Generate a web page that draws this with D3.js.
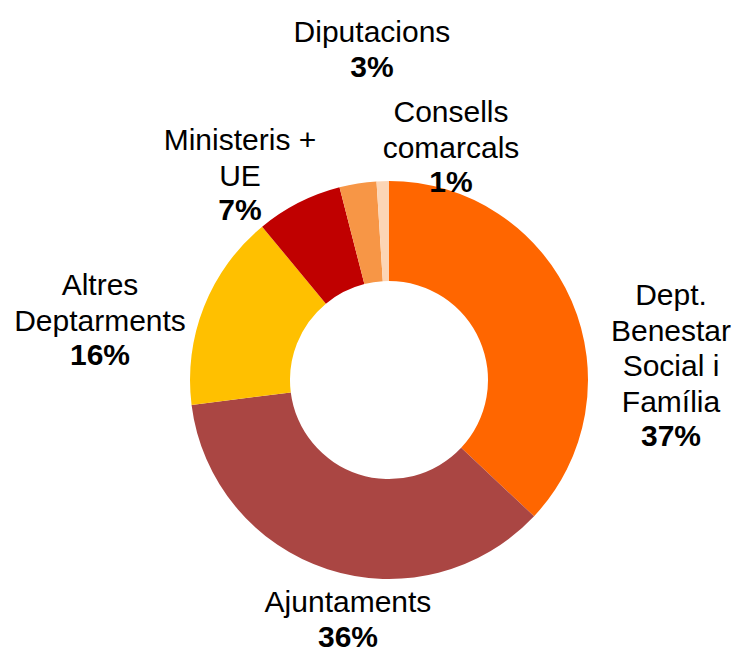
<!DOCTYPE html>
<meta charset="utf-8">
<html>
<head>
  <title>Donut</title>
  <style>
    body { margin: 0; background: #fff; }
  </style>
</head>
<body>
<div id="my_dataviz"></div>
<script src="https://d3js.org/d3.v7.min.js"></script>
<script>
  // data
  var categories = ["Dept.\nBenestar\nSocial i\nFamília", "Ajuntaments", "Altres\nDeptarments", "Ministeris +\nUE", "Diputacions", "Consells\ncomarcals"];
  var values = [37, 36, 16, 7, 3, 1];
  var colors = ["#FF6600", "#AA4643", "#FFC000", "#C00000", "#F79646", "#FCD5B5"];

  // label anchors (center x, baseline of first line)
  var labelPos = [[671, 305], [348, 612], [100, 295], [240, 150], [372, 42], [451, 122]];

  var width = 737, height = 649;
  var cx = 389, cy = 380, outerR = 199, innerR = 99;
  var lineH = 35.5;

  var svg = d3.select("#my_dataviz")
    .append("svg")
      .attr("width", width)
      .attr("height", height);

  var data = categories.map(function(c, i) { return {name: c, value: values[i], color: colors[i], pos: labelPos[i]}; });

  var pie = d3.pie().sort(null).value(function(d) { return d.value; });
  var arc = d3.arc().innerRadius(innerR).outerRadius(outerR);

  var g = svg.append("g").attr("transform", "translate(" + cx + "," + cy + ")");
  g.selectAll("path")
    .data(pie(data))
    .enter()
    .append("path")
      .attr("d", arc)
      .attr("fill", function(d) { return d.data.color; });

  // labels
  var labels = svg.selectAll(".lbl")
    .data(data)
    .enter()
    .append("text")
      .attr("class", "lbl")
      .attr("text-anchor", "middle")
      .style("font-family", "Liberation Sans, Arial, sans-serif")
      .style("font-size", "30px")
      .attr("fill", "#000");

  labels.each(function(d) {
    var t = d3.select(this);
    var lines = d.name.split("\n");
    lines.forEach(function(l, i) {
      t.append("tspan")
        .attr("x", d.pos[0])
        .attr("y", d.pos[1] + i * lineH)
        .text(l);
    });
    t.append("tspan")
      .attr("x", d.pos[0])
      .attr("y", d.pos[1] + lines.length * lineH - 1)
      .style("font-weight", "bold")
      .text(d.value + "%");
  });
</script>
</body>
</html>
